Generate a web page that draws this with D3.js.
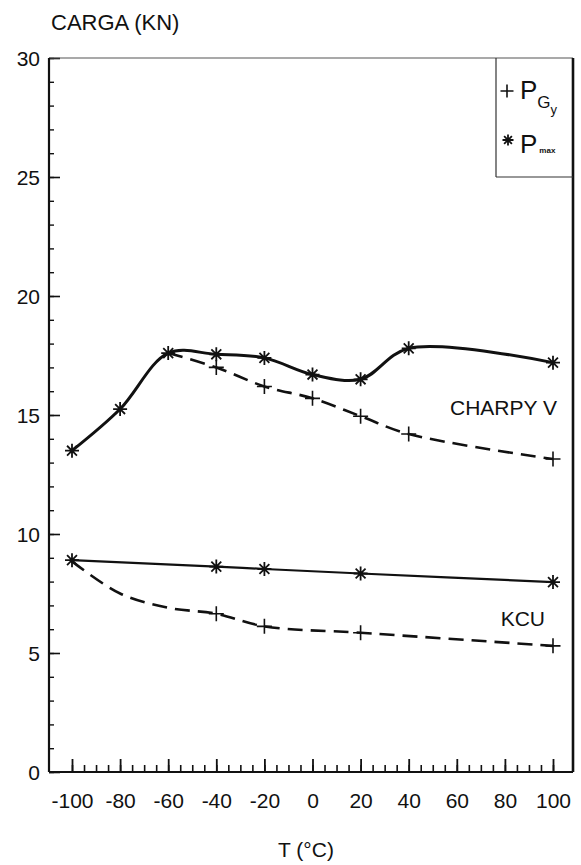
<!DOCTYPE html>
<html>
<head>
<meta charset="utf-8">
<script src="https://cdn.jsdelivr.net/npm/d3@7"></script>
<style>
  body { margin: 0; background: #fff; }
  svg { display: block; font-family: "Liberation Sans", Arial, sans-serif; }
</style>
</head>
<body>
<div id="chart"></div>
<script>
// axis ticks
const tempTicks = [-100, -80, -60, -40, -20, 0, 20, 40, 60, 80, 100];
const tempMinor = d3.range(-100, 101, 5);
const loadTicks = [0, 5, 10, 15, 20, 25, 30];
const loadMinor = d3.range(0, 31, 1);

// CHARPY V
const charpyMaxT = [-100, -80, -60, -40, -20, 0, 20, 40, 100];
const charpyMaxV = [13.5, 15.25, 17.6, 17.55, 17.4, 16.7, 16.5, 17.8, 17.2];
const charpyGyT = [-60, -40, -20, 0, 20, 40, 100];
const charpyGyV = [17.6, 17.0, 16.2, 15.7, 14.95, 14.2, 13.15];
const charpyGyMark = [false, true, true, true, true, true, true];

// KCU
const kcuMaxT = [-100, -40, -20, 20, 100];
const kcuMaxV = [8.9, 8.63, 8.53, 8.34, 7.98];
const kcuGyT = [-100, -80, -60, -40, -20, 20, 100];
const kcuGyV = [8.85, 7.5, 6.9, 6.65, 6.12, 5.85, 5.3];
const kcuGyMark = [false, false, false, true, true, true, true];

const width = 581, height = 865;
const frame = { left: 49, right: 573, top: 58, bottom: 772 };

const svg = d3.select("#chart").append("svg")
  .attr("width", width)
  .attr("height", height);

const x = d3.scaleLinear().domain([-100, 100]).range([72, 553]);
const y = d3.scaleLinear().domain([0, 30]).range([frame.bottom, frame.top]);

const pts = (ts, vs, marks) => ts.map((t, i) => ({ t: t, v: vs[i], mark: marks ? marks[i] : true }));

// ticks (inward)
svg.append("g")
  .attr("transform", `translate(0,${frame.bottom})`)
  .call(d3.axisBottom(x).tickValues(tempMinor).tickSize(-7).tickSizeOuter(0).tickFormat(""))
  .call(g => g.select(".domain").remove())
  .call(g => g.selectAll("line").attr("stroke", "#111").attr("stroke-width", 1.6));

svg.append("g")
  .attr("transform", `translate(0,${frame.bottom})`)
  .call(d3.axisBottom(x).tickValues(tempTicks).tickSize(-13).tickSizeOuter(0).tickPadding(36).tickFormat(d => String(d)))
  .call(g => g.select(".domain").remove())
  .call(g => g.selectAll("line").attr("stroke", "#111").attr("stroke-width", 1.8))
  .call(g => g.selectAll("text").attr("fill", "#111").style("font-size", "21px").attr("dy", 0));

svg.append("g")
  .attr("transform", `translate(${frame.left},0)`)
  .call(d3.axisLeft(y).tickValues(loadMinor).tickSize(-5).tickSizeOuter(0).tickFormat(""))
  .call(g => g.select(".domain").remove())
  .call(g => g.selectAll("line").attr("stroke", "#111").attr("stroke-width", 1.4));

svg.append("g")
  .attr("transform", `translate(${frame.left},0)`)
  .call(d3.axisLeft(y).tickValues(loadTicks).tickSize(-11).tickSizeOuter(0).tickPadding(9))
  .call(g => g.select(".domain").remove())
  .call(g => g.selectAll("line").attr("stroke", "#111").attr("stroke-width", 1.6))
  .call(g => g.selectAll("text").attr("fill", "#111").style("font-size", "21px").attr("dy", "0.36em"));

// frame
svg.append("line").attr("x1", frame.left).attr("x2", frame.right).attr("y1", frame.top).attr("y2", frame.top)
  .attr("stroke", "#555").attr("stroke-width", 1.2);
svg.append("line").attr("x1", frame.left).attr("x2", frame.right).attr("y1", frame.bottom).attr("y2", frame.bottom)
  .attr("stroke", "#111").attr("stroke-width", 2);
svg.append("line").attr("x1", frame.left).attr("x2", frame.left).attr("y1", frame.top).attr("y2", frame.bottom)
  .attr("stroke", "#111").attr("stroke-width", 2.2);
svg.append("line").attr("x1", frame.right).attr("x2", frame.right).attr("y1", frame.top).attr("y2", frame.bottom)
  .attr("stroke", "#111").attr("stroke-width", 2.6);

// curves
const line = d3.line().x(d => x(d.t)).y(d => y(d.v)).curve(d3.curveCatmullRom.alpha(0.5));

const series = [
  { data: pts(charpyMaxT, charpyMaxV), dash: null, w: 3, marker: "star" },
  { data: pts(charpyGyT, charpyGyV, charpyGyMark), dash: "15,8", w: 2.6, marker: "plus" },
  { data: pts(kcuMaxT, kcuMaxV), dash: null, w: 2.2, marker: "star" },
  { data: pts(kcuGyT, kcuGyV, kcuGyMark), dash: "15,8", w: 2.6, marker: "plus" }
];

const starPath = r => {
  const a = r * Math.SQRT1_2;
  return `M${-r},0L${r},0M0,${-r}L0,${r}M${-a},${-a}L${a},${a}M${-a},${a}L${a},${-a}`;
};
const plusPath = r => `M${-r},0L${r},0M0,${-r}L0,${r}`;

series.forEach(s => {
  svg.append("path")
    .datum(s.data)
    .attr("d", line)
    .attr("fill", "none")
    .attr("stroke", "#111")
    .attr("stroke-width", s.w)
    .attr("stroke-dasharray", s.dash);

  svg.selectAll(null)
    .data(s.data.filter(d => d.mark))
    .enter().append("path")
    .attr("transform", d => `translate(${x(d.t)},${y(d.v)})`)
    .attr("d", s.marker === "star" ? starPath(7) : plusPath(7.5))
    .attr("fill", "none")
    .attr("stroke", "#111")
    .attr("stroke-width", s.marker === "star" ? 1.8 : 1.6);
});

// curve labels
svg.append("text").attr("x", 557).attr("y", 415).attr("text-anchor", "end")
  .style("font-size", "21px").attr("fill", "#111").text("CHARPY V");
svg.append("text").attr("x", 545).attr("y", 626).attr("text-anchor", "end")
  .style("font-size", "21px").attr("fill", "#111").text("KCU");

// axis titles
svg.append("text").attr("x", 51).attr("y", 30)
  .style("font-size", "22px").attr("fill", "#111").text("CARGA (KN)");
svg.append("text").attr("x", 306).attr("y", 857).attr("text-anchor", "middle")
  .style("font-size", "21px").attr("fill", "#111").text("T (°C)");

// legend
const legendLeft = 496, legendBottom = 177;
svg.append("line").attr("x1", legendLeft).attr("x2", legendLeft).attr("y1", frame.top).attr("y2", legendBottom)
  .attr("stroke", "#333").attr("stroke-width", 1.2);
svg.append("line").attr("x1", legendLeft).attr("x2", frame.right).attr("y1", legendBottom).attr("y2", legendBottom)
  .attr("stroke", "#333").attr("stroke-width", 1.2);

svg.append("path").attr("transform", "translate(507,91)").attr("d", plusPath(6.5))
  .attr("stroke", "#111").attr("stroke-width", 1.6);
const l1 = svg.append("text").attr("x", 520).attr("y", 99).attr("fill", "#111");
l1.append("tspan").style("font-size", "26px").text("P");
l1.append("tspan").style("font-size", "17px").attr("dy", 9).text("G");
l1.append("tspan").style("font-size", "13px").attr("dy", 6).text("y");

svg.append("path").attr("transform", "translate(508,140)").attr("d", starPath(5.5))
  .attr("stroke", "#111").attr("stroke-width", 1.8);
const l2 = svg.append("text").attr("x", 520).attr("y", 153).attr("fill", "#111");
l2.append("tspan").style("font-size", "26px").text("P");
l2.append("tspan").style("font-size", "8px").style("font-weight", "bold").attr("dx", 2).text("max");
</script>
</body>
</html>
